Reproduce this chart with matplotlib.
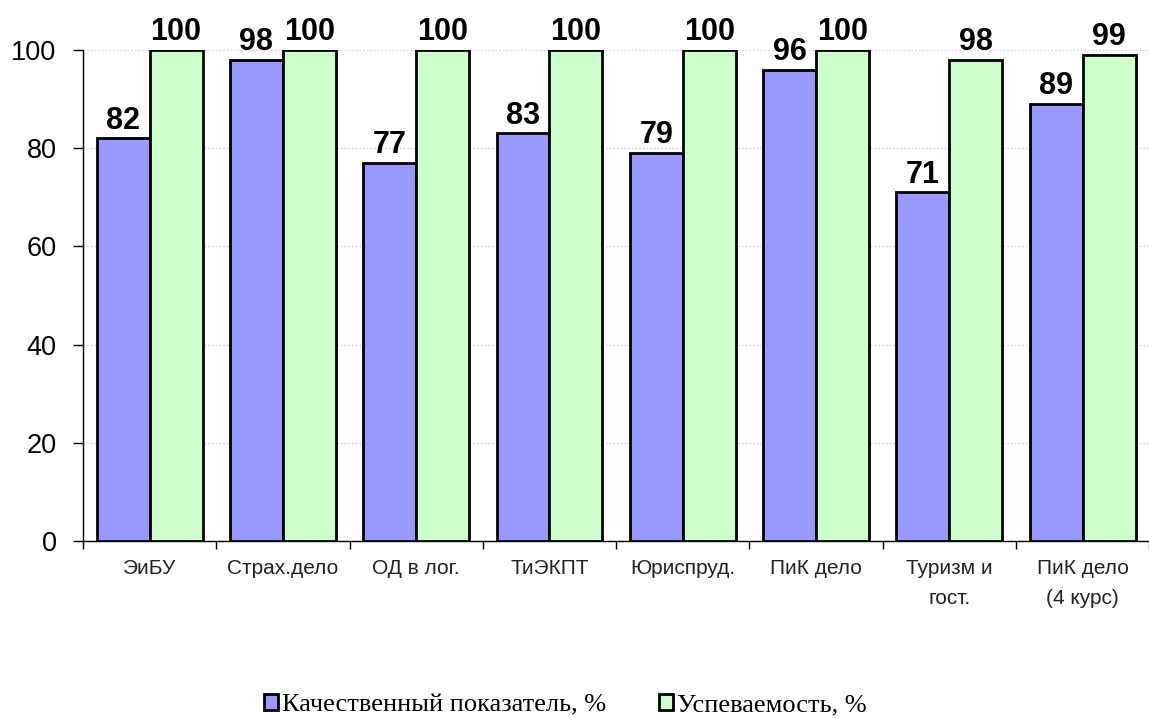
import matplotlib
matplotlib.use('Agg')
import matplotlib.pyplot as plt
import numpy as np

# Данные
categories = ['ЭиБУ', 'Страх.дело', 'ОД в лог.', 'ТиЭКПТ', 'Юриспруд.',
              'ПиК дело', 'Туризм и\nгост.', 'ПиК дело\n(4 курс)']
quality = [82, 98, 77, 83, 79, 96, 71, 89]
progress = [100, 100, 100, 100, 100, 100, 98, 99]
series_names = ['Качественный показатель, %', 'Успеваемость, %']

fig = plt.figure(figsize=(11.49, 7.18), dpi=100)
ax = fig.add_axes([0.0722, 0.2465, 0.928, 0.684])

x = np.arange(len(categories))
w = 0.397
b1 = ax.bar(x - w / 2, quality, w, color='#9999FF', edgecolor='black',
            linewidth=2, label=series_names[0], zorder=3)
b2 = ax.bar(x + w / 2, progress, w, color='#CCFFCC', edgecolor='black',
            linewidth=2, label=series_names[1], zorder=3)

for bars in (b1, b2):
    ax.bar_label(bars, padding=2, fontsize=22, fontweight='bold',
                 family='Liberation Sans', clip_on=False)

ax.set_xlim(-0.5, len(categories) - 0.5)
ax.set_ylim(0, 100)
ax.set_yticks(np.arange(0, 101, 20))
ax.yaxis.grid(True, color='#d0d0d0', linestyle=':', linewidth=1, zorder=0)

ax.set_xticks(x)
ax.set_xticklabels(categories, family='Liberation Sans', fontsize=15,
                   color='#222222', linespacing=1.75)
ax.set_xticks(np.arange(-0.5, len(categories), 1), minor=True)
ax.tick_params(axis='x', which='major', length=0, pad=13)
ax.tick_params(axis='x', which='minor', length=6, width=1, direction='out')
ax.tick_params(axis='y', length=7, width=1, direction='out', pad=12)
for lab in ax.get_yticklabels():
    lab.set_family('Liberation Sans')
    lab.set_fontsize(19.5)

ax.spines['top'].set_visible(False)
ax.spines['right'].set_visible(False)
ax.spines['left'].set_linewidth(1)
ax.spines['bottom'].set_linewidth(1)

fig.legend(loc='center', bbox_to_anchor=(0.492, 0.018), ncol=2,
           frameon=False, prop={'family': 'Liberation Serif', 'size': 19},
           handlelength=0.55, handleheight=0.55, handletextpad=0.15,
           columnspacing=2.0)

fig.savefig('out.png', dpi=100)
